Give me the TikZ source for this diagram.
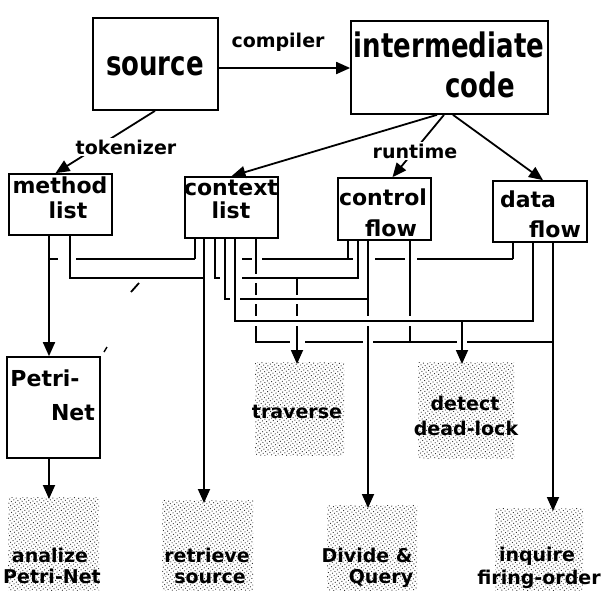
\documentclass[tikz,border=0pt]{standalone}
\usepackage{fontspec}
\usepackage{graphicx}
\setmainfont{DejaVu Sans}
\usetikzlibrary{arrows.meta,patterns.meta}
\begin{document}
\begin{tikzpicture}[x=1pt,y=-1pt,
  box/.style={draw,line width=1.7pt,inner sep=0pt},
  shadebox/.style={inner sep=0pt,pattern={Dots[distance=3pt,radius=0.65pt,angle=35]},pattern color=black!80},
  wire/.style={line width=1.8pt},
  arr/.style={wire,-{Triangle[length=14pt,width=12pt]}},
  bigtxt/.style={font=\fontsize{26}{28}\selectfont\bfseries,inner sep=0pt,anchor=base},
  boxtxt/.style={font=\fontsize{22}{24}\selectfont\bfseries,inner sep=0pt,anchor=base},
  edgetxt/.style={font=\fontsize{19}{21}\selectfont\bfseries,inner sep=2pt,anchor=base,fill=white},
  acttxt/.style={font=\fontsize{19}{21}\selectfont\bfseries,inner sep=0pt,anchor=base},
]
\useasboundingbox (0,0) rectangle (606,590);
\fill[white] (0,0) rectangle (606,590);

% boxes
\node[box,minimum width=125pt,minimum height=92pt] (src) at (155.5,64) {};
\node[box,minimum width=197pt,minimum height=93pt] (inter) at (449.5,67.5) {};
\node[box,minimum width=103pt,minimum height=61pt] (meth) at (60.5,204.5) {};
\node[box,minimum width=93pt,minimum height=61pt] (ctx) at (231.5,207.5) {};
\node[box,minimum width=93pt,minimum height=62pt] (cflow) at (384.5,209) {};
\node[box,minimum width=94pt,minimum height=61pt] (dflow) at (540,211.5) {};
\node[box,minimum width=93pt,minimum height=101pt] (petri) at (53.5,407.5) {};

% shaded activity boxes
\node[shadebox,minimum width=89pt,minimum height=93pt,anchor=north west] (trav) at (255,362) {};
\node[shadebox,minimum width=96pt,minimum height=96pt,anchor=north west] (dead) at (418,362) {};
\node[shadebox,minimum width=91pt,minimum height=93pt,anchor=north west] (anal) at (8,497) {};
\node[shadebox,minimum width=91pt,minimum height=90pt,anchor=north west] (retr) at (162,500) {};
\node[shadebox,minimum width=90pt,minimum height=85pt,anchor=north west] (divq) at (327,505) {};
\node[shadebox,minimum width=88pt,minimum height=82pt,anchor=north west] (inq) at (495,508) {};

% texts
\node[bigtxt] (tsrc) at (155,75) {\scalebox{1}[1.3]{source}};
\node[bigtxt] (tint) at (449,57) {\scalebox{1}[1.3]{intermediate}};
\node[bigtxt] (tcode) at (480,97) {\scalebox{1}[1.3]{code}};
\node[boxtxt] (tmeth) at (60,193) {method};
\node[boxtxt] (tml) at (68,218) {list};
\node[boxtxt] (tctx) at (231,195) {context};
\node[boxtxt] (tcl) at (231,218) {list};
\node[boxtxt] (tcon) at (383,205) {control};
\node[boxtxt] (tcfl) at (391,236) {flow};
\node[boxtxt] (tdata) at (528,207) {data};
\node[boxtxt] (tdfl) at (555,237) {flow};
\node[boxtxt] (tpet) at (45,386) {Petri-};
\node[boxtxt] (tnet) at (73,420) {Net};
\node[acttxt] (ttrav) at (297,418) {traverse};
\node[acttxt] (tdet) at (465,410) {detect};
\node[acttxt] (tdl) at (466,435) {dead-lock};
\node[acttxt] (tan) at (50,562) {analize};
\node[acttxt] (tpn) at (52,583) {Petri-Net};
\node[acttxt] (tret) at (207,562) {retrieve};
\node[acttxt] (tso) at (210,583) {source};
\node[acttxt] (tdiv) at (367,562) {Divide \&};
\node[acttxt] (tqu) at (381,583) {Query};
\node[acttxt] (tinq) at (537,561) {inquire};
\node[acttxt] (tfir) at (539,584) {firing-order};

% leg and level coordinates
\coordinate (L1) at (0,259);
\coordinate (L2) at (0,278);
\coordinate (L3) at (0,299);
\coordinate (L4) at (0,321);
\coordinate (L5) at (0,342);
\coordinate (m1) at (49,0);
\coordinate (m2) at (70,0);
\coordinate (c1) at (195,0);
\coordinate (c2) at (204,0);
\coordinate (c3) at (215,0);
\coordinate (c4) at (225,0);
\coordinate (c5) at (235,0);
\coordinate (c6) at (256,0);
\coordinate (f1) at (348,0);
\coordinate (f2) at (358,0);
\coordinate (f3) at (368,0);
\coordinate (f4) at (410,0);
\coordinate (d1) at (513,0);
\coordinate (d2) at (533,0);
\coordinate (d3) at (553,0);
\coordinate (tv) at (297,0);
\coordinate (dl) at (462,0);
\coordinate (ycomp) at (0,68);
\coordinate (rs1) at (437,0);
\coordinate (rs2) at (444,0);
\coordinate (rs3) at (453,0);

% top connectors
\draw[arr] (src.east |- ycomp) -- (inter.west |- ycomp);
\node[edgetxt,fill=none] (tcomp) at (278,47) {compiler};
\draw[arr] ([xshift=-0.5pt]src.south) -- ([xshift=-5pt]meth.north);
\node[edgetxt] (ttok) at (126,154) {tokenizer};
\draw[arr] (rs1 |- inter.south) -- (ctx.north);
\draw[arr] (rs3 |- inter.south) -- ([xshift=3pt]dflow.north);
\draw[arr] (rs2 |- inter.south) -- ([xshift=8pt]cflow.north);
\node[edgetxt] (trun) at (415,158) {runtime};

% method list legs
\draw[arr] (m1 |- meth.south) -- (m1 |- petri.north);
\draw[wire] (m2 |- meth.south) |- (c2 |- L2);
\draw[arr] (m1 |- petri.south) -- ([yshift=-2pt]m1 |- anal.north);

% level 1 bus
\draw[wire] (m1 |- L1) -- (58,259) (76,259) -- (c1 |- L1) (242,259) -- (252,259)
  (262,259) -- (353,259) (375,259) -- (405,259) (417,259) -- (d1 |- L1);
\draw[wire] (c1 |- ctx.south) -- (c1 |- L1);
\draw[wire] (f1 |- cflow.south) -- (f1 |- L1);
\draw[wire] (d1 |- dflow.south) -- (d1 |- L1);

% context leg 2 to retrieve
\draw[arr] (c2 |- ctx.south) -- ([yshift=-3pt]c2 |- retr.north);
% level 2
\draw[wire] (c3 |- ctx.south) |- (220,278);
\draw[wire] (f2 |- cflow.south) |- (242,278);
\draw[wire] (tv |- L2) -- (297,295) (297,304) -- (297,316);
\draw[arr] (297,326) -- ([yshift=-2pt]tv |- trav.north);
% level 3
\draw[wire] (c4 |- ctx.south) |- (230,299);
\draw[wire] (240,299) -- (f3 |- L3);
% level 4
\draw[wire] (c5 |- ctx.south) |- (d2 |- L4) -- (d2 |- dflow.south);
\draw[arr] (dl |- L4) -- ([yshift=-2pt]dl |- dead.north);
% level 5
\draw[wire] (c6 |- ctx.south) -- (256,274) (256,283) -- (256,295) (256,304) -- (256,316)
  (256,326) -- (c6 |- L5) -- (290,342) (305,342) -- (363,342) (373,342) -- (457,342)
  (467,342) -- (d3 |- L5);
% control flow legs
\draw[wire] (f3 |- cflow.south) -- (368,316);
\draw[arr] (368,326) -- ([yshift=-3pt]f3 |- divq.north);
\draw[wire] (f4 |- cflow.south) -- (410,316) (410,326) -- (f4 |- L5);
% data flow leg
\draw[arr] (d3 |- dflow.south) -- ([yshift=-3pt]d3 |- inq.north);

% stray pen marks
\draw[line width=1.8pt] (131,292) -- (139,283);
\draw[line width=1.4pt] (104,352) -- (107,347);
\end{tikzpicture}
\end{document}
